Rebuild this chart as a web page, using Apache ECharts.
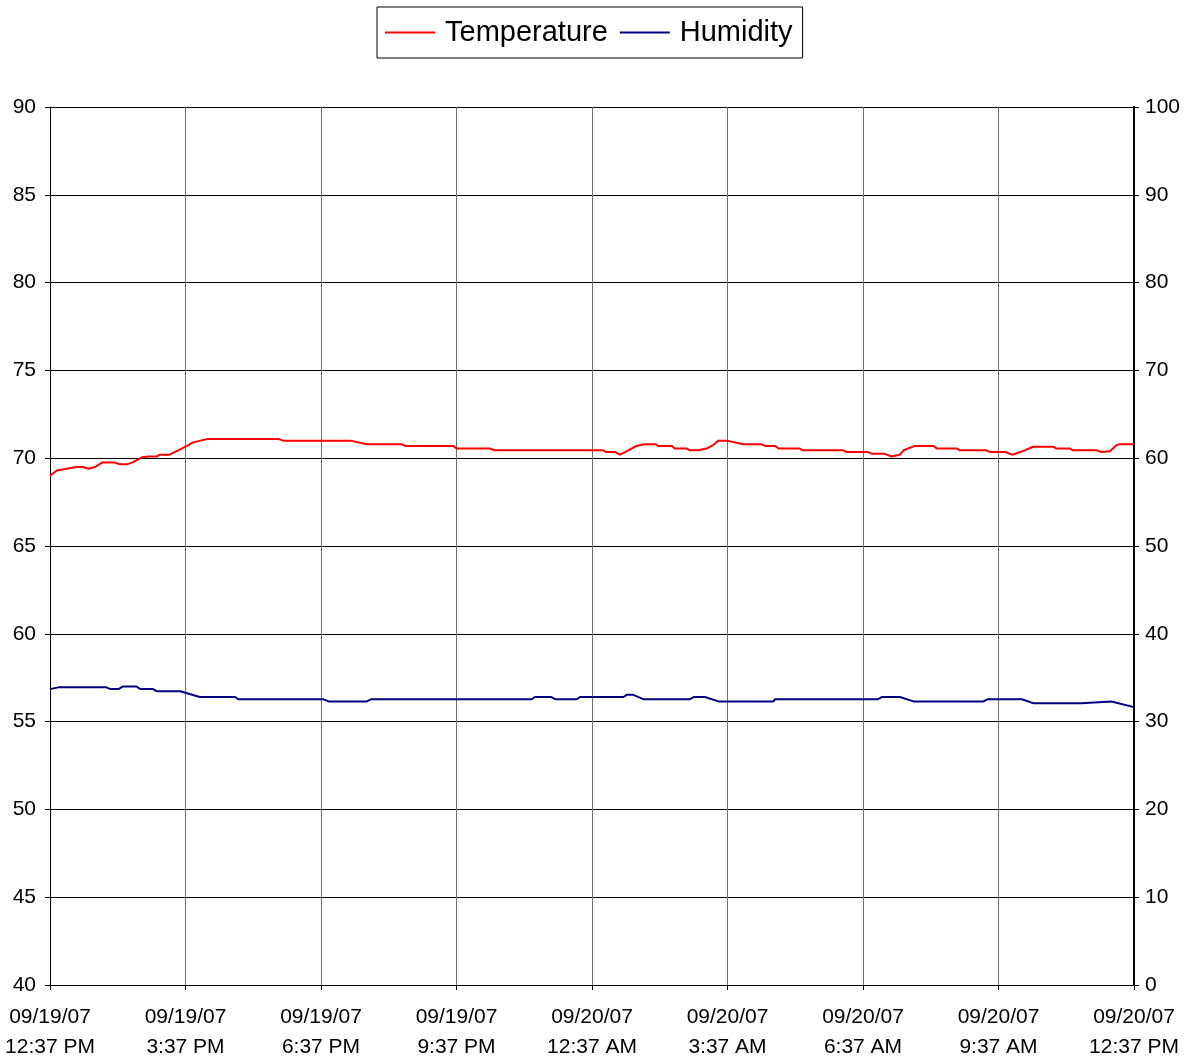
<!DOCTYPE html>
<html>
<head>
<meta charset="utf-8">
<script src="https://cdn.jsdelivr.net/npm/echarts@6/dist/echarts.min.js"></script>
<style>
html,body{margin:0;padding:0;background:#fff;}
#chart{width:1189px;height:1057px;}
</style>
</head>
<body>
<div id="chart"></div>
<script>
// Minutes elapsed since 09/19/07 12:37 PM
var tempTimes = [0,9,22,35,44,51,60,69,86,93,102,109,122,131,142,146,159,182,190,210,303,310,399,421,467,472,536,540,584,591,735,739,751,757,764,779,790,804,808,826,830,846,850,861,872,881,888,899,921,945,950,963,968,996,1000,1054,1058,1087,1092,1109,1118,1129,1134,1149,1174,1178,1205,1209,1244,1249,1269,1278,1289,1306,1333,1337,1355,1359,1390,1397,1408,1417,1421,1440];
var tempValues = [69.0,69.3,69.4,69.5,69.5,69.4,69.5,69.75,69.75,69.65,69.65,69.75,70.05,70.1,70.1,70.2,70.2,70.7,70.9,71.1,71.1,71.0,71.0,70.8,70.8,70.7,70.7,70.55,70.55,70.45,70.45,70.35,70.35,70.2,70.35,70.7,70.8,70.8,70.7,70.7,70.55,70.55,70.45,70.45,70.55,70.75,71.0,71.0,70.8,70.8,70.7,70.7,70.55,70.55,70.45,70.45,70.35,70.35,70.25,70.25,70.1,70.2,70.45,70.7,70.7,70.55,70.55,70.45,70.45,70.35,70.35,70.2,70.35,70.65,70.65,70.55,70.55,70.45,70.45,70.35,70.4,70.75,70.8,70.8];

var humTimes = [0,11,75,80,91,97,115,120,137,142,173,199,246,250,363,370,421,427,640,644,666,671,700,704,762,766,775,788,850,855,870,888,961,963,1100,1105,1129,1147,1240,1246,1291,1306,1370,1372,1410,1440];
var humValues = [33.7,33.9,33.9,33.7,33.7,34.0,34.0,33.7,33.7,33.45,33.45,32.8,32.8,32.55,32.55,32.3,32.3,32.55,32.55,32.8,32.8,32.55,32.55,32.8,32.8,33.05,33.05,32.55,32.55,32.8,32.8,32.3,32.3,32.55,32.55,32.8,32.8,32.3,32.3,32.55,32.55,32.1,32.1,32.3,32.3,31.65];

var dateLabels = ['09/19/07','09/19/07','09/19/07','09/19/07','09/20/07','09/20/07','09/20/07','09/20/07','09/20/07'];
var timeLabels = ['12:37 PM','3:37 PM','6:37 PM','9:37 PM','12:37 AM','3:37 AM','6:37 AM','9:37 AM','12:37 PM'];

function pairs(t, v){ return t.map(function(x,i){ return [x, v[i]]; }); }

var FONT = 'Liberation Sans, Arial, sans-serif';
var chart = echarts.init(document.getElementById('chart'), null, {renderer:'canvas'});
chart.setOption({
  animation: false,
  backgroundColor: '#fff',
  textStyle: {fontFamily: FONT},
  legend: {
    left: 377, top: 7,
    orient: 'horizontal',
    icon: 'rect',
    itemWidth: 50, itemHeight: 2,
    itemGap: 12,
    padding: [11, 10, 11, 8],
    borderColor: '#000', borderWidth: 1,
    textStyle: {fontSize: 29, color: '#000', fontFamily: FONT, padding: [0,0,0,5]},
    data: ['Temperature','Humidity']
  },
  grid: {left: 50, right: 55, top: 107, bottom: 72, outerBoundsMode: 'none', containLabel: false},
  xAxis: {
    type: 'value', min: 0, max: 1440, interval: 180,
    axisLine: {show: true, onZero: false, lineStyle: {color: '#000', width: 1}},
    axisTick: {show: true, length: 5, lineStyle: {color: '#000'}},
    splitLine: {show: true, lineStyle: {color: '#707070', width: 1}},
    axisLabel: {
      margin: 17, fontSize: 21, color: '#000', fontFamily: FONT, lineHeight: 30,
      showMinLabel: true, showMaxLabel: true, hideOverlap: false,
      formatter: function(v){ var i = Math.round(v/180); return dateLabels[i] + '\n' + timeLabels[i]; }
    }
  },
  yAxis: [{
    type: 'value', min: 40, max: 90, interval: 5, position: 'left',
    axisLine: {show: true, lineStyle: {color: '#000', width: 1}},
    axisTick: {show: true, length: 5, lineStyle: {color: '#000'}},
    splitLine: {show: true, lineStyle: {color: '#000', width: 1}},
    axisLabel: {margin: 14, fontSize: 21, color: '#000', fontFamily: FONT}
  },{
    type: 'value', min: 0, max: 100, interval: 10, position: 'right',
    axisLine: {show: true, lineStyle: {color: '#000', width: 2}},
    axisTick: {show: true, length: 5, lineStyle: {color: '#000'}},
    splitLine: {show: false},
    axisLabel: {margin: 11, fontSize: 21, color: '#000', fontFamily: FONT}
  }],
  series: [{
    name: 'Temperature', type: 'line', yAxisIndex: 0,
    data: pairs(tempTimes, tempValues),
    showSymbol: false, symbol: 'none',
    lineStyle: {color: '#ff0000', width: 2},
    itemStyle: {color: '#ff0000'}
  },{
    name: 'Humidity', type: 'line', yAxisIndex: 1,
    data: pairs(humTimes, humValues),
    showSymbol: false, symbol: 'none',
    lineStyle: {color: '#000080', width: 2},
    itemStyle: {color: '#000080'}
  }]
});
</script>
</body>
</html>
